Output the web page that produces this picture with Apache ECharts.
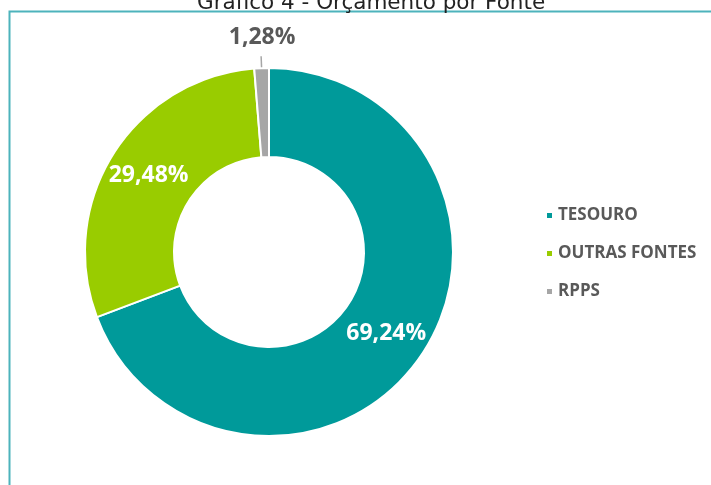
<!DOCTYPE html>
<html>
<head>
<meta charset="utf-8">
<script src="https://cdn.jsdelivr.net/npm/echarts@6/dist/echarts.min.js"></script>
<style>
html,body{margin:0;padding:0;background:#fff;}
#chart{width:711px;height:485px;}
</style>
</head>
<body>
<div id="chart"></div>
<script>
const categories = ['TESOURO', 'OUTRAS FONTES', 'RPPS'];
const values = [69.24, 29.48, 1.28];
const colors = ['#009A9A', '#99CC00', '#A6A6A6'];
const titleText = 'Gráfico 4 - Orçamento por Fonte';

const chart = echarts.init(document.getElementById('chart'));
const data = categories.map((name, i) => {
  const item = { name: name, value: values[i], itemStyle: { color: colors[i] } };
  if (i === 2) {
    item.label = { position: 'outside', color: '#595959' };
    item.labelLine = { show: true, length: 12, length2: 0, lineStyle: { color: '#A6A6A6', width: 1.5 } };
  }
  return item;
});

chart.setOption({
  animation: false,
  backgroundColor: '#fff',
  title: {
    text: titleText,
    left: 192,
    top: -13,
    textStyle: { fontFamily: 'DejaVu Sans', fontSize: 21.5, fontWeight: 'normal', color: '#222' }
  },
  graphic: [{
    type: 'rect',
    shape: { x: 9.5, y: 11.5, width: 720, height: 500 },
    style: { fill: 'none', stroke: '#4DB3BC', lineWidth: 2 },
    silent: true
  }],
  legend: {
    orient: 'vertical',
    left: 540,
    top: 202,
    itemWidth: 7,
    itemHeight: 7,
    itemGap: 21,
    icon: 'rect',
    textStyle: { fontFamily: 'Open Sans', fontSize: 17, lineHeight: 17, fontWeight: 'bold', color: '#595959' },
    data: categories
  },
  series: [{
    type: 'pie',
    center: [269, 252],
    radius: [95, 184],
    startAngle: 90,
    clockwise: true,
    itemStyle: { borderColor: '#fff', borderWidth: 2 },
    label: {
      show: true,
      position: 'inside',
      color: '#fff',
      fontFamily: 'Open Sans',
      fontSize: 23,
      fontWeight: 'bold',
      formatter: p => p.value.toFixed(2).replace('.', ',') + '%'
    },
    labelLine: { show: false },
    labelLayout: function (params) {
      if (params.dataIndex === 2 && params.labelLinePoints) {
        const pts = params.labelLinePoints;
        const p = pts[pts.length - 1];
        return { x: p[0] + 1, y: p[1] - 7, align: 'center', verticalAlign: 'bottom', labelLinePoints: pts };
      }
    },
    data: data
  }]
});
</script>
</body>
</html>
